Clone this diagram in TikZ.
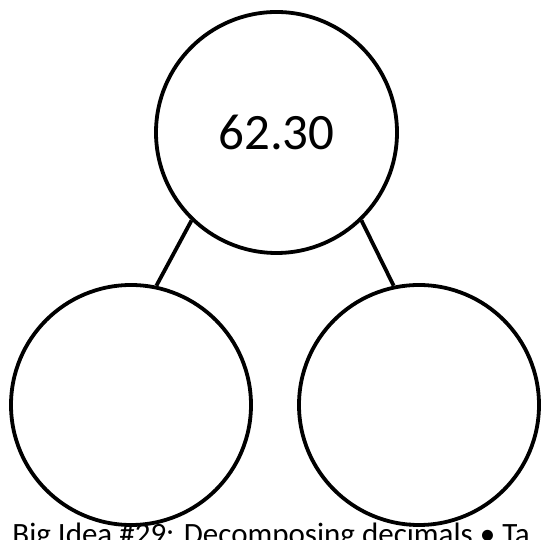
\documentclass[tikz,border=0pt]{standalone}
\usepackage{fontspec}
\setmainfont{Carlito}
\usepackage{tikz}
\tikzstyle{graph}=[x=1pt, y=1pt, line width=3.8pt]
\tikzstyle{whole}=[circle, draw, inner sep=0pt, minimum size=241pt, font=\fontsize{51}{60}\selectfont]
\tikzstyle{part}=[circle, draw, inner sep=0pt, minimum size=240pt]
\tikzstyle{edge}=[line width=3.8pt]
\tikzstyle{caption}=[anchor=base west, inner sep=0pt, font=\fontsize{31}{37}\selectfont]

\begin{document}
\begin{tikzpicture}[graph]
	\clip (0,0) rectangle (544,540);
	\draw (276.5,407.5) node[whole] (top) {62.30};
	\draw (131,135) node[part] (left) {};
	\draw (419,135) node[part] (right) {};
	\draw[edge] (top.226) -- (left.78);
	\draw[edge] (top.314) -- (right.102);
	\draw (10.5,-5) node[caption] (title) {Big Idea \#29: Decomposing decimals • Ta};
	\end{tikzpicture}
\end{document}
